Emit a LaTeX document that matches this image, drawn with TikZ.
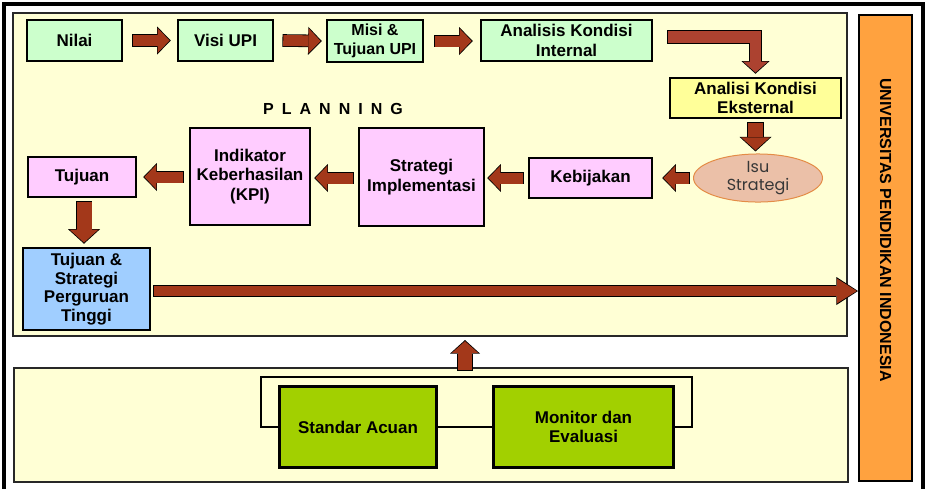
\documentclass[tikz,border=0pt]{standalone}
\usepackage{fontspec}
\setmainfont{Liberation Sans}
\newfontfamily\isufont{Poppins}
\usetikzlibrary{arrows.meta,shapes.geometric,calc}
\definecolor{panelfill}{RGB}{255,255,213}
\definecolor{panelline}{RGB}{40,40,40}
\definecolor{lgreen}{RGB}{204,255,204}
\definecolor{lyellow}{RGB}{255,255,153}
\definecolor{lpink}{RGB}{255,204,255}
\definecolor{lblue}{RGB}{160,206,255}
\definecolor{dgreen}{RGB}{162,208,0}
\definecolor{uorange}{RGB}{255,162,63}
\definecolor{arrowred}{RGB}{163,56,26}
\definecolor{elbowred}{RGB}{172,66,48}
\definecolor{isufill}{RGB}{235,192,168}
\definecolor{isuline}{RGB}{228,140,70}
\definecolor{isutext}{RGB}{55,55,55}
\tikzset{
  panel/.style={draw=panelline, fill=panelfill, line width=2pt, inner sep=0pt},
  box/.style={draw=black, line width=2.5pt, align=center, inner sep=0pt,
    font=\bfseries\fontsize{17}{19.5}\selectfont},
  gbox/.style={box, fill=lgreen},
  ybox/.style={box, fill=lyellow},
  pbox/.style={box, fill=lpink},
  bbox/.style={box, fill=lblue, font=\bfseries\fontsize{17}{18.7}\selectfont},
  grbox/.style={box, fill=dgreen, line width=3pt},
  bar/.style n args={7}{draw=#7, line width=#1, line join=miter,
    -{Triangle[length=#2,width=#3,line width=0pt]}, shorten >=1.2pt,
    preaction={draw=black, line width=#4, line join=miter,
      -{Triangle[length=#5,width=#6,line width=0pt]},
      shorten >=0pt, shorten <=-0.8pt}},
  arrowA/.style={bar={11pt}{12pt}{25pt}{12.6pt}{13.6pt}{28pt}{arrowred}},
  arrowB/.style={bar={15pt}{13pt}{29pt}{16.6pt}{14.6pt}{32pt}{arrowred}},
  arrowC/.style={bar={10.5pt}{20pt}{25pt}{12.1pt}{21.6pt}{28pt}{arrowred}},
  arrowD/.style={bar={14pt}{12pt}{27pt}{15.6pt}{13.6pt}{30pt}{arrowred}},
  arrowE/.style={bar={11.5pt}{11pt}{25pt}{13.1pt}{12.6pt}{28pt}{elbowred}},
  loopline/.style={draw=black, line width=2pt, line join=miter},
}
\begin{document}
\begin{tikzpicture}[x=1pt,y=-1pt]
\useasboundingbox[fill=white] (0,0) rectangle (926,488);
% outer frame
\draw[line width=4pt] (4,4) rectangle (923,496);
% panels
\node[panel, minimum width=834pt, minimum height=323pt] (uppanel) at (430,174.5) {};
\node[panel, minimum width=834pt, minimum height=114pt] (lowpanel) at (431,425) {};
\node[draw=black, fill=uorange, line width=2pt, minimum width=466pt, minimum height=53pt,
  rotate=-90, inner sep=0pt, font=\bfseries\fontsize{16}{19}\selectfont] (univ) at (885.5,248)
  {UNIVERSITAS PENDIDIKAN INDONESIA\kern36pt};
% top row
\node[gbox, minimum width=95pt, minimum height=41pt] (nilai) at (74.5,40.5) {Nilai};
\node[gbox, minimum width=95pt, minimum height=41pt] (visi) at (225.5,40.5) {Visi UPI};
\node[gbox, minimum width=96pt, minimum height=42pt, font=\bfseries\fontsize{16}{19}\selectfont] (misi) at (375,41) {Misi \&\\Tujuan UPI};
\node[gbox, minimum width=171pt, minimum height=41pt] (intl) at (566.5,40.5) {Analisis Kondisi\\Internal};
\node[ybox, minimum width=171pt, minimum height=40pt] (ekst) at (755.5,98) {Analisi Kondisi\\Eksternal};
\node[ellipse, draw=isuline, fill=isufill, line width=1pt, minimum width=129pt, minimum height=47pt,
  inner sep=0pt, align=center, text=isutext, font=\isufont\fontsize{16}{18.5}\selectfont] (isu) at (758,178) {Isu\\Strategi};
\node[pbox, minimum width=123pt, minimum height=40pt] (kebij) at (590.5,178) {Kebijakan};
\node[pbox, minimum width=125pt, minimum height=98pt] (strat) at (421.5,177) {Strategi\\Implementasi};
\node[pbox, minimum width=120pt, minimum height=97pt] (kpi) at (250,176.5) {Indikator\\Keberhasilan\\(KPI)};
\node[pbox, minimum width=108pt, minimum height=40pt] (tujuan) at (82,177) {Tujuan};
\node[bbox, minimum width=127pt, minimum height=82pt] (tspt) at (86.5,289) {Tujuan \&\\Strategi\\Perguruan\\Tinggi};
\node[font=\bfseries\fontsize{16}{19}\selectfont] (planning) at (333,109)
  {P\kern8pt L\kern8pt A\kern8pt N\kern8pt N\kern8pt I\kern8pt N\kern8pt G};
% bottom panel
\node[grbox, minimum width=157pt, minimum height=81pt] (standar) at (358,427) {Standar Acuan};
\node[grbox, minimum width=180pt, minimum height=81pt] (monitor) at (583.5,427) {Monitor dan\\Evaluasi};
\coordinate (lpL) at ([xshift=-17pt]standar.west);
\coordinate (lpR) at ([xshift=17pt]monitor.east);
\coordinate (lpT) at ([yshift=8pt]standar.north);
\draw[loopline] (standar.west) -- (lpL) |- (lpT) -| (lpR) -- (monitor.east);
\draw[loopline] (standar.east) -- (monitor.west);
% arrows
\draw[arrowA] ([xshift=10pt]nilai.east) -- ([xshift=-6pt]visi.west);
\draw[arrowA] ([xshift=9pt]visi.east) -- ([xshift=-4pt]misi.west);
\draw[arrowA] ([xshift=11pt]misi.east) -- ([xshift=-7pt]misi.east -| intl.west);
\draw[arrowE] ([xshift=15pt,yshift=3.5pt]intl.east) -| ([yshift=3pt]ekst.north);
\coordinate (e1) at (ekst.south |- isu.north);
\draw[arrowB] ([yshift=-4pt]ekst.south) -- ([yshift=2pt]e1);
\draw[arrowA] ([xshift=-4pt]isu.west) -- ([xshift=9pt]kebij.east);
\coordinate (k1) at (kebij.west -| strat.east);
\draw[arrowA] ([xshift=-5pt]kebij.west) -- ([xshift=2pt]k1);
\coordinate (s1) at (strat.west -| kpi.east);
\draw[arrowA] ([xshift=-5pt,yshift=-1pt]strat.west) -- ([xshift=3pt,yshift=-1pt]s1);
\coordinate (p1) at (kpi.west |- tujuan.east);
\draw[arrowA] ([xshift=-6pt]p1) -- ([xshift=6pt]tujuan.east);
\coordinate (t1) at (tujuan.south |- tspt.north);
\draw[arrowB] ([xshift=2pt,yshift=-4pt]tujuan.south) -- ([xshift=2pt,yshift=3pt]t1);
\coordinate (a1) at ([xshift=3pt,yshift=-2pt]tspt.east);
\coordinate (a2) at (a1 -| univ.south);
\draw[arrowC] (a1) -- (a2);
\coordinate (u0) at ([xshift=34pt,yshift=-3pt]lowpanel.north);
\coordinate (u1) at (u0 |- uppanel.south);
\draw[arrowD] (u0) -- ([yshift=-3pt]u1);
\end{tikzpicture}
\end{document}
